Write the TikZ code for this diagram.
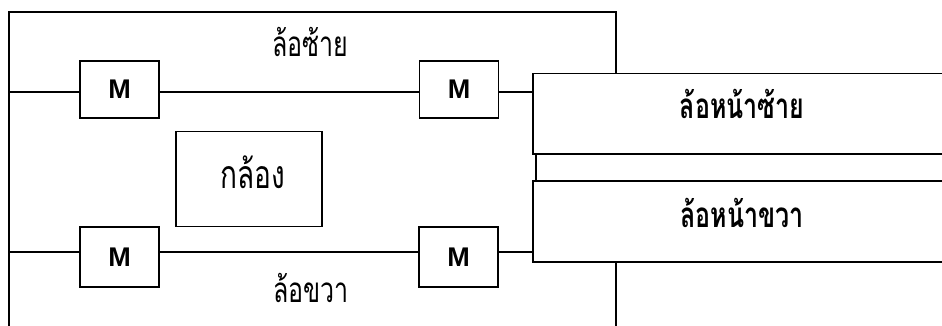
\documentclass[tikz,border=0pt]{standalone}
\usepackage{fontspec}
\setmainfont{Liberation Sans}
\newfontfamily\thaifont[Script=Thai]{Loma}
% tall Thai lettering
\newcommand{\tallth}[1]{\scalebox{1}[1.4]{#1}}
\begin{document}
\begin{tikzpicture}[x=1pt,y=-1pt,
  wire/.style={line width=1.8pt},
  motor/.style={draw,line width=1.8pt,minimum width=79pt,minimum height=57pt,
    inner sep=0pt,font=\fontsize{27}{27}\selectfont\bfseries},
  cambox/.style={draw,line width=1.8pt,minimum width=146pt,minimum height=95pt,inner sep=0pt},
  wheelbox/.style={draw,line width=1.8pt,minimum width=427pt,minimum height=81pt,inner sep=0pt},
  thlabel/.style={font=\thaifont\fontsize{25}{25}\selectfont,inner sep=0pt},
  thbold/.style={font=\thaifont\bfseries\fontsize{25}{25}\selectfont,inner sep=0pt}]
\clip (0,0) rectangle (942,326);
\fill[white] (0,0) rectangle (942,326);

% body outline, open where the front wheel units sit
\draw[wire] (616,73.5) -- (616,12) -- (9,12) -- (9,330);
\draw[wire] (616,262) -- (616,330);

% motors
\node[motor] (m1) at (119.5,89.5) {M};
\node[motor] (m2) at (459,89.5) {M};
\node[motor,minimum height=60pt] (m3) at (119.5,257) {M};
\node[motor,minimum height=60pt] (m4) at (458.5,257) {M};

% camera
\node[cambox] (cam) at (249,179) {};
\node[thlabel,font=\thaifont\fontsize{28}{28}\selectfont] at (253,172) {\tallth{กล้อง}};

% front wheel units
\node[wheelbox,minimum height=80.5pt] (fl) at (746.5,113.75) {};
\node[wheelbox] (fr) at (746.5,221.5) {};
\node[thbold] at (742,104) {\tallth{ล้อหน้าซ้าย}};
\node[thbold] at (742,213) {\tallth{ล้อหน้าขวา}};
\draw[wire] ([xshift=4pt]fl.south west) -- ([xshift=4pt]fr.north west);

% wheel wiring
\coordinate (tl) at (9,92);
\coordinate (bl) at (9,252);
\draw[wire] (tl) -- (tl -| m1.west);
\draw[wire] (m1.east |- tl) -- (m2.west |- tl);
\draw[wire] (m2.east |- tl) -- (fl.west |- tl);
\draw[wire] (bl) -- (bl -| m3.west);
\draw[wire] (m3.east |- bl) -- (m4.west |- bl);
\draw[wire] (m4.east |- bl) -- (fr.west |- bl);

% side labels
\node[thlabel] at (310,42) {\tallth{ล้อซ้าย}};
\node[thlabel] at (311,288) {\tallth{ล้อขวา}};
\end{tikzpicture}
\end{document}
